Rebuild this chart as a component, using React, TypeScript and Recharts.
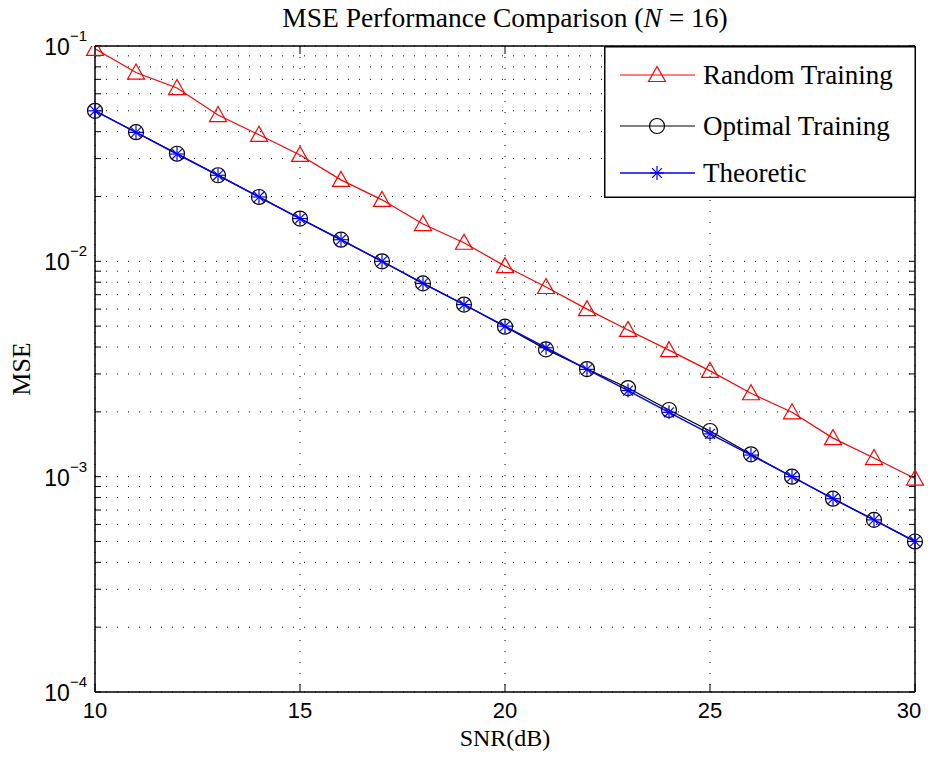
import React from "react";
import { LineChart, Line, XAxis, YAxis, CartesianGrid, Legend, Label } from "recharts";

const snr = [10, 11, 12, 13, 14, 15, 16, 17, 18, 19, 20, 21, 22, 23, 24, 25, 26, 27, 28, 29, 30];
const randomTraining = [0.097, 0.0753, 0.0638, 0.0478, 0.0387, 0.0312, 0.0239, 0.0193, 0.0149, 0.0122, 0.0095, 0.0076, 0.006, 0.0048, 0.00387, 0.0031, 0.00244, 0.00199, 0.00151, 0.00122, 0.00098];
const optimalTraining = [0.05, 0.0398, 0.0316, 0.0251, 0.0199, 0.0158, 0.0126, 0.01, 0.0079, 0.0063, 0.00497, 0.0039, 0.00316, 0.00258, 0.00204, 0.00163, 0.00127, 0.001, 0.00079, 0.00063, 0.0005];
const theoretic = [0.05, 0.0397, 0.0315, 0.0251, 0.0199, 0.0158, 0.0126, 0.01, 0.0079, 0.0063, 0.005, 0.00397, 0.00315, 0.00251, 0.00199, 0.00158, 0.00126, 0.001, 0.00079, 0.00063, 0.0005];

const xTicks = [10, 15, 20, 25, 30];
const xTopTicks = [15, 20, 25];
const yMajorTicks = [1e-4, 1e-3, 1e-2, 1e-1];
const yMajorLabels = ["−4", "−3", "−2", "−1"];
const mantissas = [1, 2, 3, 4, 5, 6, 7, 8, 9];
const decades = [1e-4, 1e-3, 1e-2];
const yAllTicks: number[] = [];
decades.forEach((d) => mantissas.forEach((m) => yAllTicks.push(parseFloat((m * d).toPrecision(3)))));
yAllTicks.push(1e-1);

const data = snr.map((s, i) => ({
  snr: s,
  random: randomTraining[i],
  optimal: optimalTraining[i],
  theoretic: theoretic[i],
}));

const SERIF = "'Liberation Serif', 'Times New Roman', serif";
const SANS = "'Liberation Sans', Arial, Helvetica, sans-serif";

const Triangle = ({ cx, cy }: any) => (
  <polygon
    points={`${cx},${cy - 8.5} ${cx - 8.5},${cy + 6.5} ${cx + 8.5},${cy + 6.5}`}
    fill="none"
    stroke="#ff0000"
    strokeWidth={1.2}
  />
);
const Circle = ({ cx, cy }: any) => (
  <circle cx={cx} cy={cy} r={7.5} fill="none" stroke="#000" strokeWidth={1.2} />
);
const Star = ({ cx, cy }: any) => {
  const r = 7;
  const d = r * 0.7071;
  return (
    <g stroke="#0000ff" strokeWidth={1.2}>
      <line x1={cx} y1={cy - r} x2={cx} y2={cy + r} />
      <line x1={cx - r} y1={cy} x2={cx + r} y2={cy} />
      <line x1={cx - d} y1={cy - d} x2={cx + d} y2={cy + d} />
      <line x1={cx - d} y1={cy + d} x2={cx + d} y2={cy - d} />
    </g>
  );
};

const markerFor = (key: string, cx: number, cy: number) => {
  if (key === "random") return <Triangle cx={cx} cy={cy} />;
  if (key === "optimal") return <Circle cx={cx} cy={cy} />;
  return <Star cx={cx} cy={cy} />;
};

const legendItems = [
  { key: "random", name: "Random Training", color: "#ff0000" },
  { key: "optimal", name: "Optimal Training", color: "#000000" },
  { key: "theoretic", name: "Theoretic", color: "#0000ff" },
];

const LegendBox = () => {
  const rows = [29, 80, 127];
  return (
    <svg width={312} height={152} style={{ display: "block" }}>
      <rect x={0.75} y={0.75} width={310.5} height={150.5} fill="#fff" stroke="#000" strokeWidth={1.5} />
      {legendItems.map((it, i) => (
        <g key={it.key}>
          <line x1={16} y1={rows[i]} x2={91} y2={rows[i]} stroke={it.color} strokeWidth={it.key === "theoretic" ? 1.5 : 1.2} />
          {markerFor(it.key, 53, rows[i])}
          <text x={99} y={rows[i] + 9} fontFamily={SERIF} fontSize={27} fill="#000">
            {it.name}
          </text>
        </g>
      ))}
    </svg>
  );
};

const XTick = ({ x, y, payload }: any) => (
  <text x={Math.min(x, 909)} y={y + 26} textAnchor="middle" fontFamily={SANS} fontSize={22} fill="#000">
    {payload.value}
  </text>
);

const YTick = ({ x, y, payload }: any) => {
  const idx = yMajorTicks.findIndex((v) => Math.abs(v - payload.value) / v < 1e-6);
  if (idx < 0) return <g />;
  return (
    <text x={x} y={y + 9} textAnchor="end" fontFamily={SANS} fontSize={23} fill="#000">
      <tspan>10</tspan>
      <tspan dy={-14} fontSize={15}>{yMajorLabels[idx]}</tspan>
    </text>
  );
};

const Empty = () => <g />;

export default function App() {
  return (
    <div style={{ margin: -8, width: 932, height: 759, background: "#fff" }}>
      <LineChart
        width={932}
        height={759}
        data={data}
        margin={{ top: 45, right: 16, bottom: 37, left: 0 }}
      >
        <CartesianGrid stroke="#000" strokeDasharray="1 10" strokeWidth={1} />
        <XAxis
          dataKey="snr"
          type="number"
          domain={[10, 30]}
          ticks={xTicks}
          interval={0}
          height={30}
          tickSize={-8}
          tickMargin={8}
          tick={<XTick />}
          axisLine={{ stroke: "#000", strokeWidth: 1.5 }}
          tickLine={{ stroke: "#000", strokeWidth: 1 }}
        >
          <Label
            content={({ viewBox }: any) => (
              <text
                x={viewBox.x + viewBox.width / 2}
                y={viewBox.y + 54}
                textAnchor="middle"
                fontFamily={SERIF}
                fontSize={24}
                fill="#000"
              >
                SNR(dB)
              </text>
            )}
          />
        </XAxis>
        <XAxis
          xAxisId="top"
          orientation="top"
          dataKey="snr"
          type="number"
          domain={[10, 30]}
          ticks={xTopTicks}
          interval={0}
          height={1}
          tickSize={-8}
          tick={<Empty />}
          axisLine={{ stroke: "#000", strokeWidth: 1.5 }}
          tickLine={{ stroke: "#000", strokeWidth: 1 }}
        >
          <Label
            content={({ viewBox }: any) => (
              <text
                x={viewBox.x + viewBox.width / 2}
                y={27}
                textAnchor="middle"
                fontFamily={SERIF}
                fontSize={27.5}
                fill="#000"
              >
                <tspan>MSE Performance Comparison (</tspan>
                <tspan fontStyle="italic">N</tspan>
                <tspan> = 16)</tspan>
              </text>
            )}
          />
        </XAxis>
        <YAxis
          scale="log"
          type="number"
          domain={[1e-4, 1e-1]}
          ticks={yAllTicks}
          interval={0}
          allowDataOverflow
          width={95}
          tickSize={-6}
          tickMargin={14}
          tick={<YTick />}
          axisLine={{ stroke: "#000", strokeWidth: 1.5 }}
          tickLine={{ stroke: "#000", strokeWidth: 1 }}
        >
          <Label
            content={({ viewBox }: any) => {
              const cy = viewBox.y + viewBox.height / 2;
              return (
                <text
                  x={30}
                  y={cy}
                  transform={`rotate(-90, 30, ${cy})`}
                  textAnchor="middle"
                  fontFamily={SERIF}
                  fontSize={26}
                  fill="#000"
                >
                  MSE
                </text>
              );
            }}
          />
        </YAxis>
        <YAxis
          yAxisId="right"
          orientation="right"
          scale="log"
          type="number"
          domain={[1e-4, 1e-1]}
          ticks={yAllTicks}
          interval={0}
          allowDataOverflow
          width={1}
          tickSize={-6}
          tick={<Empty />}
          axisLine={{ stroke: "#000", strokeWidth: 1.5 }}
          tickLine={{ stroke: "#000", strokeWidth: 1 }}
        />
        <Legend
          layout="vertical"
          align="center"
          verticalAlign="middle"
          wrapperStyle={{ position: "absolute", left: 604, top: 46, width: 312, height: 152 }}
          content={() => <LegendBox />}
        />
        <Line
          dataKey="random"
          name="Random Training"
          stroke="#ff0000"
          strokeWidth={1.2}
          dot={(p: any) => <Triangle key={`r${p.index}`} cx={p.cx} cy={p.cy} />}
          activeDot={false}
          isAnimationActive={false}
        />
        <Line
          dataKey="optimal"
          name="Optimal Training"
          stroke="#000000"
          strokeWidth={1.2}
          dot={(p: any) => <Circle key={`o${p.index}`} cx={p.cx} cy={p.cy} />}
          activeDot={false}
          isAnimationActive={false}
        />
        <Line
          dataKey="theoretic"
          name="Theoretic"
          stroke="#0000ff"
          strokeWidth={1.5}
          dot={(p: any) => <Star key={`t${p.index}`} cx={p.cx} cy={p.cy} />}
          activeDot={false}
          isAnimationActive={false}
        />
      </LineChart>
    </div>
  );
}
